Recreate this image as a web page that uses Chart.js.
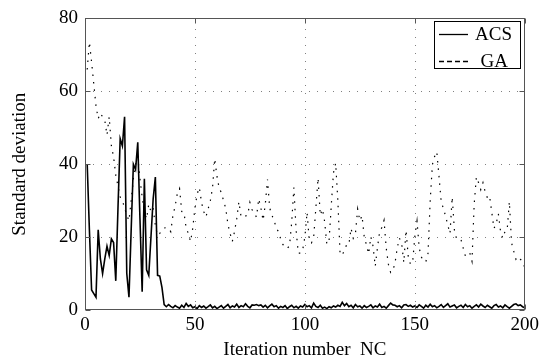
<!DOCTYPE html>
<html><head><meta charset="utf-8">
<script src="https://cdn.jsdelivr.net/npm/chart.js@4/dist/chart.umd.min.js"></script>
<style>html,body{margin:0;padding:0;background:#fff}#wrap{width:543px;height:361px;position:relative}</style>
</head><body><div id="wrap"><canvas id="c" width="543" height="361"></canvas></div>
<script>
const seriesNames = ['ACS', 'GA'];
const xTicks = [0, 50, 100, 150, 200];
const yTicks = [0, 20, 40, 60, 80];
const xTitle = 'Iteration number  NC';
const yTitle = 'Standard deviation';

// iterations 1..200
const acsValues = [
  40, 22, 5.5, 4.5, 3.5, 22, 14, 10, 14, 17.5,
  15, 19.5, 18.5, 8, 28, 47, 45, 53, 10, 3.5,
  22, 40, 38.5, 46, 25, 5, 36, 11, 9.5, 20,
  30.5, 36.5, 9.5, 9.3, 6.2, 1.5, 0.9, 1.5, 1.0, 0.6,
  1.2, 0.8, 0.5, 1.3, 0.7, 1.8, 1.0, 1.4, 0.6, 0.9,
  0.4, 1.2, 0.7, 1.1, 0.5, 0.9, 1.4, 0.6, 1.0, 0.4,
  0.8, 1.2, 0.5, 1.0, 1.5, 0.6, 1.1, 0.8, 1.6, 0.7,
  1.2, 0.9, 1.7, 1.0, 0.6, 1.4, 1.3, 1.5, 1.2, 1.4,
  0.8, 1.3, 0.6, 1.1, 1.6, 0.9, 1.2, 0.5, 1.0, 0.7,
  1.2, 0.4, 0.9, 1.3, 0.6, 1.0, 0.5, 1.1, 0.8, 1.5,
  0.9, 1.2, 0.6, 1.9, 1.0, 0.7, 1.3, 0.5, 0.8, 0.4,
  0.9, 0.6, 1.1, 0.8, 1.3, 1.0, 2.1, 1.2, 1.8, 0.9,
  1.3, 0.6, 1.5, 0.9, 1.1, 0.5, 1.2, 0.7, 1.0, 1.4,
  0.6, 1.1, 0.8, 1.6, 0.7, 1.0, 0.5, 1.2, 1.9, 1.4,
  1.3, 0.9, 1.2, 0.6, 1.4, 1.5, 1.0, 1.3, 0.8, 1.1,
  0.7, 1.4, 1.0, 0.5, 1.3, 0.8, 1.6, 0.9, 1.2, 0.6,
  1.0, 1.5, 0.7, 1.2, 1.7, 0.8, 1.1, 1.4, 0.6, 1.0,
  1.3, 0.7, 1.5, 0.9, 1.2, 0.5, 1.0, 1.4, 0.8, 1.6,
  1.1, 0.7, 1.3, 0.9, 0.5, 1.2, 1.5, 0.8, 1.1, 0.6,
  1.4, 0.9, 0.5, 1.0, 1.5, 1.7, 1.2, 1.4, 0.9, 0.6
];

const gaValues = [
  66, 73.5, 68, 62, 56, 52.5, 54, 53, 52, 48,
  53, 45, 42, 37, 34, 31, 30, 28, 26, 24.5,
  30, 36, 40, 42, 36, 31, 27, 25, 29, 27,
  28, 23, 20.5, 21, 22, 22.5, 22.6, 22.5, 21.5, 26,
  28.5, 32, 33.3, 27, 26.8, 22.5, 21, 18.8, 22.4, 28,
  31.8, 33.6, 29.5, 27, 25.5, 27.7, 30, 33.5, 41.5, 36.7,
  33.5, 32.2, 30, 27.9, 23.5, 21, 18.8, 21.5, 25, 29.7,
  25.5, 25.5, 25.8, 26, 29.5, 27.5, 26.5, 25.5, 30.5, 28,
  24.6, 29, 35.8, 28, 26, 24.6, 22.4, 21.5, 19.5, 18,
  17, 17, 17.5, 24, 33.6, 22, 15.6, 15.6, 16.5, 20,
  26.8, 19, 18.4, 20, 28, 36.2, 26, 27.7, 24.2, 18,
  19, 28.6, 37.6, 40.3, 30, 15.5, 15, 16.5, 17.9, 17.9,
  22.4, 19.7, 21, 27.7, 24.5, 25.9, 20, 17.9, 15.4, 20.1,
  17.5, 12, 17, 21.5, 22.6, 24.6, 17, 12.5, 10.3, 10.8,
  12.9, 17, 19.7, 18.4, 13, 21.9, 14.8, 12.6, 13, 20,
  24.4, 17, 14.5, 13.4, 13.2, 15.5, 30, 39.9, 42.1, 43.4,
  36.7, 29.7, 27.9, 25.7, 23.3, 21, 31, 22, 19.5, 19.3,
  19.3, 17, 14.8, 15.2, 15.7, 13.4, 29, 36.5, 34.9, 33,
  34.9, 32.4, 30.8, 31.3, 26.8, 22.4, 23.7, 26.4, 21.5, 19.7,
  21.5, 21.9, 29.7, 18.4, 16.1, 13.9, 14.6, 13.9, 13.4, 11.6
];

const FONT = "'Liberation Serif', 'Times New Roman', serif";
const FS = 19;
const toPoints = arr => arr.map((v, k) => ({ x: k + 1, y: v }));

const gridPlugin = {
  id: 'matlabGrid',
  beforeDatasetsDraw(chart) {
    const { ctx, chartArea: a, scales: { x, y } } = chart;
    ctx.save();
    ctx.strokeStyle = '#808080';
    ctx.lineWidth = 1;
    ctx.setLineDash([1, 7]);
    xTicks.forEach(v => {
      const px = Math.round(x.getPixelForValue(v)) + 0.5;
      if (px <= a.left + 1 || px >= a.right - 1) return;
      ctx.beginPath(); ctx.moveTo(px, a.bottom); ctx.lineTo(px, a.top); ctx.stroke();
    });
    yTicks.forEach(v => {
      const py = Math.round(y.getPixelForValue(v)) + 0.5;
      if (py <= a.top + 1 || py >= a.bottom - 1) return;
      ctx.beginPath(); ctx.moveTo(a.left, py); ctx.lineTo(a.right, py); ctx.stroke();
    });
    ctx.restore();
  },
  afterDatasetsDraw(chart) {
    const { ctx, chartArea: a, scales: { x, y } } = chart;
    ctx.save();
    ctx.strokeStyle = '#555';
    ctx.lineWidth = 1;
    ctx.setLineDash([]);
    const L = Math.round(a.left) + 0.5, R = Math.round(a.right) - 0.5;
    const T = Math.round(a.top) + 0.5, B = Math.round(a.bottom) - 0.5;
    ctx.strokeRect(L, T, R - L, B - T);
    const tl = 5;
    xTicks.forEach(v => {
      const px = Math.round(x.getPixelForValue(v)) + 0.5;
      ctx.beginPath(); ctx.moveTo(px, B); ctx.lineTo(px, B - tl); ctx.moveTo(px, T); ctx.lineTo(px, T + tl); ctx.stroke();
    });
    yTicks.forEach(v => {
      const py = Math.round(y.getPixelForValue(v)) + 0.5;
      ctx.beginPath(); ctx.moveTo(L, py); ctx.lineTo(L + tl, py); ctx.moveTo(R, py); ctx.lineTo(R - tl, py); ctx.stroke();
    });
    // legend box
    const bx = 434.5, by = 21.5, bw = 86, bh = 47;
    ctx.fillStyle = '#fff';
    ctx.fillRect(bx, by, bw, bh);
    ctx.strokeStyle = '#000';
    ctx.strokeRect(bx, by, bw, bh);
    const rows = [34, 61];
    chart.data.datasets.forEach((ds, i) => {
      const ry = rows[i] + 0.5;
      ctx.beginPath();
      ctx.lineWidth = 1.3;
      ctx.strokeStyle = '#000';
      ctx.setLineDash(i === 0 ? [] : [5, 3]);
      ctx.moveTo(439, ry); ctx.lineTo(468, ry); ctx.stroke();
      ctx.setLineDash([]);
      ctx.fillStyle = '#000';
      ctx.font = FS + 'px ' + FONT;
      ctx.textBaseline = 'middle';
      ctx.textAlign = 'right';
      ctx.fillText(ds.label, i === 0 ? 512 : 508, rows[i] + 1);
    });
    ctx.restore();
  }
};

new Chart(document.getElementById('c'), {
  type: 'line',
  data: {
    datasets: [
      { label: seriesNames[0], data: toPoints(acsValues), borderColor: '#000', borderWidth: 1.6, pointRadius: 0, tension: 0, fill: false },
      { label: seriesNames[1], data: toPoints(gaValues), borderColor: '#000', borderWidth: 1.2, borderDash: [1.5, 6], pointRadius: 0, tension: 0, fill: false }
    ]
  },
  options: {
    responsive: false,
    animation: false,
    devicePixelRatio: 1,
    layout: { padding: { left: 0, right: 18, top: 13, bottom: 0 } },
    plugins: { legend: { display: false }, tooltip: { enabled: false } },
    scales: {
      x: {
        type: 'linear', min: 0, max: 200,
        afterBuildTicks: s => { s.ticks = xTicks.map(v => ({ value: v })); },
        afterFit: s => { s.height = 51; },
        grid: { display: false, drawTicks: false },
        border: { display: false },
        ticks: { color: '#000', font: { family: FONT, size: FS }, padding: 4, maxRotation: 0 },
        title: { display: true, text: xTitle, color: '#000', font: { family: FONT, size: FS }, padding: { top: 0, bottom: 0 } }
      },
      y: {
        type: 'linear', min: 0, max: 80,
        afterBuildTicks: s => { s.ticks = yTicks.map(v => ({ value: v })); },
        afterFit: s => { s.width = 85; },
        grid: { display: false, drawTicks: false },
        border: { display: false },
        ticks: { color: '#000', font: { family: FONT, size: FS }, padding: 7 },
        title: { display: true, text: yTitle, color: '#000', font: { family: FONT, size: FS }, padding: { top: 9, bottom: 0 } }
      }
    }
  },
  plugins: [gridPlugin]
});
</script>
</body></html>
